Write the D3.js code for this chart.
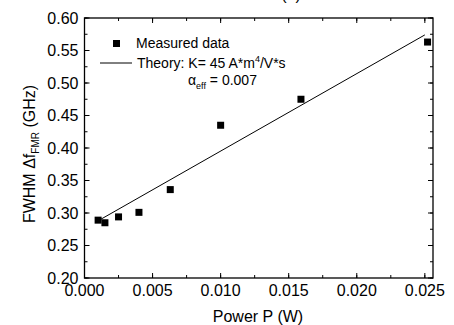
<!DOCTYPE html>
<html>
<head>
<meta charset="utf-8">
<script src="https://cdn.jsdelivr.net/npm/d3@7"></script>
<style>
  body { margin: 0; background: #fff; }
  svg text { font-family: "Liberation Sans", Arial, sans-serif; fill: #000; }
</style>
</head>
<body>
<svg id="chart" width="454" height="325"></svg>
<script>
// data
const powerW = [0.001, 0.0015, 0.0025, 0.004, 0.0063, 0.010, 0.0159, 0.0252];
const fwhmGHz = [0.289, 0.285, 0.294, 0.301, 0.336, 0.435, 0.475, 0.563];
const theoryP = [0.001, 0.025];
const theoryF = [0.288, 0.574];
const xTicks = [0, 0.005, 0.01, 0.015, 0.02, 0.025];
const yTicks = [0.20, 0.25, 0.30, 0.35, 0.40, 0.45, 0.50, 0.55, 0.60];

const svg = d3.select("#chart");
const plotL = 84.5, plotR = 433, plotT = 18, plotB = 278;

const x = d3.scaleLinear().domain([0, 0.0256]).range([plotL, plotR]);
const y = d3.scaleLinear().domain([0.20, 0.60]).range([plotB, plotT]);

// ticks (inside, all four sides)
const xMinor = d3.range(0, 0.0256, 0.0025);
const yMinor = d3.range(0.20, 0.6001, 0.025);

const g = svg.append("g");
function tickLines(vals, len, horiz) {
  vals.forEach(v => {
    if (horiz) {
      const px = x(v);
      g.append("line").attr("x1", px).attr("x2", px).attr("y1", plotB).attr("y2", plotB - len);
      g.append("line").attr("x1", px).attr("x2", px).attr("y1", plotT).attr("y2", plotT + len);
    } else {
      const py = y(v);
      g.append("line").attr("y1", py).attr("y2", py).attr("x1", plotL).attr("x2", plotL + len);
      g.append("line").attr("y1", py).attr("y2", py).attr("x1", plotR).attr("x2", plotR - len);
    }
  });
}
tickLines(xMinor, 3, true);
tickLines(xTicks, 5, true);
tickLines(yMinor, 3, false);
tickLines(yTicks, 5, false);
g.selectAll("line").attr("stroke", "#000").attr("stroke-width", 1);

svg.append("rect")
  .attr("x", plotL).attr("y", plotT)
  .attr("width", plotR - plotL).attr("height", plotB - plotT)
  .attr("fill", "none").attr("stroke", "#000").attr("stroke-width", 1.3);

// tick labels
svg.selectAll(".xl").data(xTicks).enter().append("text")
  .attr("x", d => x(d)).attr("y", 296)
  .attr("text-anchor", "middle").style("font-size", "16px")
  .text(d => d3.format(".3f")(d));

svg.selectAll(".yl").data(yTicks).enter().append("text")
  .attr("x", plotL - 6).attr("y", d => y(d)).attr("dy", "0.36em")
  .attr("text-anchor", "end").style("font-size", "16px")
  .text(d => d3.format(".2f")(d));

// theory line
svg.append("path")
  .datum(d3.zip(theoryP, theoryF))
  .attr("d", d3.line().x(d => x(d[0])).y(d => y(d[1])))
  .attr("fill", "none").attr("stroke", "#000").attr("stroke-width", 1);

// measured points
svg.selectAll(".pt").data(d3.zip(powerW, fwhmGHz)).enter().append("rect")
  .attr("x", d => x(d[0]) - 3.5).attr("y", d => y(d[1]) - 3.5)
  .attr("width", 7).attr("height", 7).attr("fill", "#000");

// legend
svg.append("rect").attr("x", 113).attr("y", 40).attr("width", 7).attr("height", 7).attr("fill", "#000");
svg.append("text").attr("x", 136).attr("y", 48).style("font-size", "14px").text("Measured data");
svg.append("line").attr("x1", 100).attr("x2", 132).attr("y1", 63).attr("y2", 63)
  .attr("stroke", "#000").attr("stroke-width", 1);
const th = svg.append("text").attr("x", 137).attr("y", 68).style("font-size", "14px");
th.append("tspan").text("Theory: K= 45 A*m");
th.append("tspan").attr("dy", -6).style("font-size", "9px").text("4");
th.append("tspan").attr("dy", 6).text("/V*s");
const al = svg.append("text").attr("x", 188).attr("y", 85).style("font-size", "14px");
al.append("tspan").text("\u03b1");
al.append("tspan").attr("dy", 4).style("font-size", "9px").text("eff");
al.append("tspan").attr("dy", -4).text(" = 0.007");

// axis titles
svg.append("text").attr("x", 258).attr("y", 322).attr("text-anchor", "middle")
  .style("font-size", "16px").text("Power P (W)");
const yt = svg.append("text")
  .attr("transform", "translate(35,154) rotate(-90)")
  .attr("text-anchor", "middle").style("font-size", "16px");
yt.append("tspan").text("FWHM \u0394f");
yt.append("tspan").attr("dy", 4).style("font-size", "10px").text("FMR");
yt.append("tspan").attr("dy", -4).text(" (GHz)");

// panel title, mostly cut off at the top
svg.append("text").attr("x", 291).attr("y", 0).attr("text-anchor", "middle")
  .style("font-size", "16px").text("(a)");
</script>
</body>
</html>
